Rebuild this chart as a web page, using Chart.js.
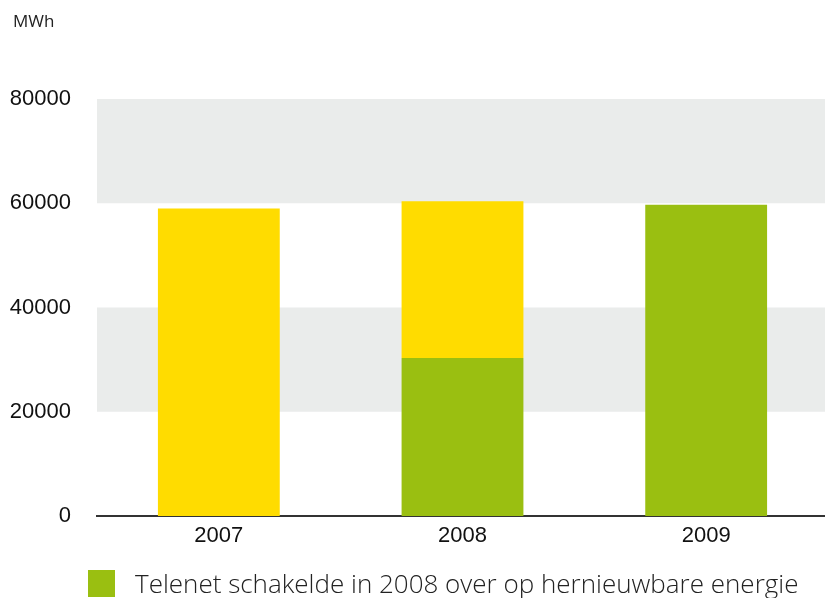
<!DOCTYPE html>
<html>
<head>
<meta charset="utf-8">
<script src="https://cdn.jsdelivr.net/npm/chart.js@4/dist/chart.umd.min.js"></script>
<style>
  html, body { margin: 0; padding: 0; background: #fff; overflow: hidden; }
  #wrap { position: relative; width: 830px; height: 598px; }
  #unit { position: absolute; left: 13px; top: 9px; font: 17px "Liberation Sans Narrow", "Open Sans", sans-serif; color: #222; }
  #legend { position: absolute; left: 88px; top: 570px; display: flex; align-items: center; }
  #legend .sw { width: 27px; height: 27px; background: #9abf11; }
  #legend .lbl { margin-left: 20px; font: 300 26px "Open Sans", sans-serif; color: #222; white-space: nowrap; line-height: 27px; }
</style>
</head>
<body>
<div id="wrap">
  <canvas id="chart" width="830" height="598"></canvas>
  <div id="unit">MWh</div>
  <div id="legend"><div class="sw"></div><div class="lbl" id="legendText"></div></div>
</div>
<script>
// data
const years = ["2007", "2008", "2009"];
const groenStroom = [0, 30300, 59700];      // green part
const grijzeStroom = [59000, 30100, 0];     // yellow part
const yTicks = [0, 20000, 40000, 60000, 80000];
const bands = [[20000, 40000], [60000, 80000]];
const legendLabel = "Telenet schakelde in 2008 over op hernieuwbare energie";

const GREEN = "#9abf11", YELLOW = "#ffdc00", BAND = "#eaeceb";

document.getElementById("legendText").textContent = legendLabel;

// grey horizontal bands behind the bars
const bandPlugin = {
  id: "bands",
  beforeDatasetsDraw(chart) {
    const { ctx, chartArea, scales: { y } } = chart;
    ctx.save();
    ctx.fillStyle = BAND;
    bands.forEach(([lo, hi]) => {
      const top = y.getPixelForValue(hi), bot = y.getPixelForValue(lo);
      ctx.fillRect(chartArea.left, top, chart.width - chartArea.left, bot - top);
    });
    ctx.restore();
  }
};

new Chart(document.getElementById("chart"), {
  type: "bar",
  data: {
    labels: years,
    datasets: [
      { label: legendLabel, data: groenStroom, backgroundColor: GREEN, borderWidth: 0 },
      { label: "grijze stroom", data: grijzeStroom, backgroundColor: YELLOW, borderWidth: 0 }
    ]
  },
  options: {
    responsive: false,
    animation: false,
    layout: { padding: { top: 99, right: 2, left: 0, bottom: 0 } },
    datasets: { bar: { barPercentage: 0.5, categoryPercentage: 1.0 } },
    scales: {
      x: {
        stacked: true,
        grid: { display: false, drawTicks: false },
        border: { display: true, color: "#333", width: 2 },
        ticks: { color: "#111", padding: 7, font: { family: "Liberation Sans", size: 22 } },
        afterFit: (s) => { s.height = 82; }
      },
      y: {
        stacked: true,
        min: 0, max: 80000,
        afterBuildTicks: (s) => { s.ticks = yTicks.map((v) => ({ value: v })); },
        grid: { display: false, drawTicks: false },
        border: { display: false },
        ticks: { color: "#111", padding: 26, font: { family: "Liberation Sans", size: 22 },
                 callback: (v) => String(v) },
        afterFit: (s) => { s.width = 97; }
      }
    },
    plugins: { legend: { display: false }, tooltip: { enabled: false } }
  },
  plugins: [bandPlugin]
});
</script>
</body>
</html>
